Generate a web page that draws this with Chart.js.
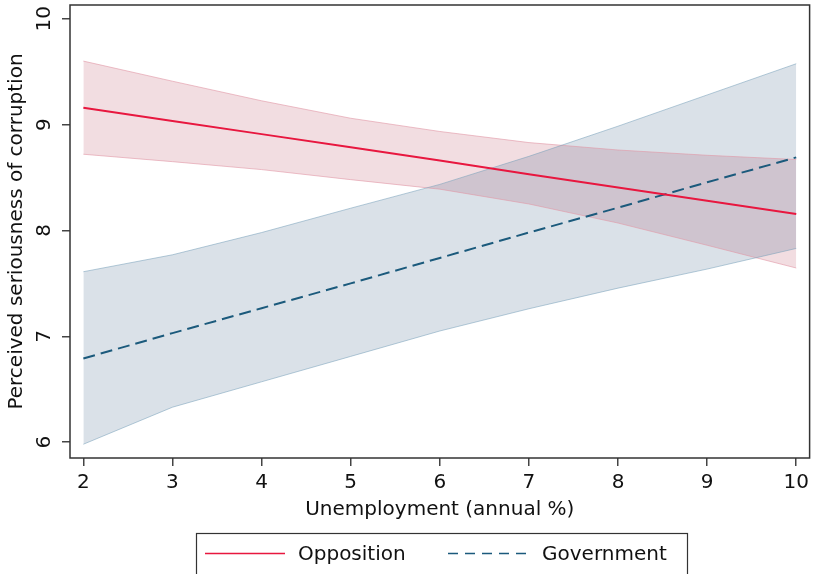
<!DOCTYPE html>
<html>
<head>
<meta charset="utf-8">
<script src="https://cdn.jsdelivr.net/npm/chart.js@4.4.1/dist/chart.umd.min.js"></script>
<style>
  html, body { margin: 0; padding: 0; background: #ffffff; }
  #wrap { width: 814px; height: 574px; position: relative; }
</style>
</head>
<body>
<div id="wrap"><canvas id="c" width="814" height="574"></canvas></div>
<script>
// ---- data ----
const unemployment = [2, 3, 4, 5, 6, 7, 8, 9, 10];
const oppositionFit   = [9.16, 9.035, 8.91, 8.785, 8.66, 8.53, 8.405, 8.28, 8.155];
const oppositionUpper = [9.60, 9.41, 9.225, 9.06, 8.935, 8.83, 8.76, 8.71, 8.67];
const oppositionLower = [8.72, 8.65, 8.575, 8.48, 8.39, 8.25, 8.07, 7.86, 7.645];
const governmentFit   = [6.79, 7.03, 7.265, 7.50, 7.74, 7.98, 8.215, 8.455, 8.69];
const governmentUpper = [7.61, 7.77, 7.98, 8.21, 8.435, 8.70, 8.985, 9.28, 9.575];
const governmentLower = [5.98, 6.33, 6.57, 6.81, 7.05, 7.26, 7.455, 7.635, 7.83];
const xTicks = [2, 3, 4, 5, 6, 7, 8, 9, 10];
const yTicks = [6, 7, 8, 9, 10];
const seriesLabels = ['Opposition', 'Government'];
const xTitle = 'Unemployment (annual %)';
const yTitle = 'Perceived seriousness of corruption';

const pts = arr => unemployment.map((x, i) => ({ x: x, y: arr[i] }));

const FONT = '"DejaVu Sans", sans-serif';
const RED = '#e8173f';
const NAVY = '#1b5a7c';

const decorPlugin = {
  id: 'decor',
  afterDraw(chart) {
    const ctx = chart.ctx;
    const a = chart.chartArea;
    ctx.save();
    // plot frame
    ctx.strokeStyle = '#333';
    ctx.lineWidth = 1.5;
    ctx.strokeRect(a.left, a.top, a.right - a.left, a.bottom - a.top);
    // rotated y tick labels
    const ys = chart.scales.y;
    ctx.fillStyle = '#111';
    ctx.font = '20px ' + FONT;
    ctx.textAlign = 'center';
    ctx.textBaseline = 'middle';
    yTicks.forEach(v => {
      const py = ys.getPixelForValue(v);
      ctx.save();
      ctx.translate(ys.right - 25, py);
      ctx.rotate(-Math.PI / 2);
      ctx.fillText(String(v), 0, 0);
      ctx.restore();
    });
    // legend
    const lx = 196, ly = 533, lw = 491, lh = 60;
    ctx.strokeStyle = '#333';
    ctx.lineWidth = 1.2;
    ctx.strokeRect(lx + 0.5, ly + 0.5, lw, lh);
    const ds = chart.data.datasets;
    const items = [
      { ds: ds[0], x0: 205, x1: 285, tx: 298 },
      { ds: ds[1], x0: 448, x1: 528, tx: 542 }
    ];
    const cy = 553.5;
    items.forEach(it => {
      ctx.save();
      ctx.strokeStyle = it.ds.borderColor;
      ctx.lineWidth = 1.6;
      ctx.setLineDash(it.ds.borderDash && it.ds.borderDash.length ? [10, 7] : []);
      ctx.beginPath();
      ctx.moveTo(it.x0, cy);
      ctx.lineTo(it.x1, cy);
      ctx.stroke();
      ctx.restore();
      ctx.fillStyle = '#111';
      ctx.font = '20px ' + FONT;
      ctx.textAlign = 'left';
      ctx.textBaseline = 'middle';
      ctx.fillText(it.ds.label, it.tx, cy + 1);
    });
    ctx.restore();
  }
};

new Chart(document.getElementById('c'), {
  type: 'line',
  data: {
    datasets: [
      { label: seriesLabels[0], data: pts(oppositionFit), borderColor: RED, borderWidth: 2,
        pointRadius: 0, fill: false, tension: 0 },
      { label: seriesLabels[1], data: pts(governmentFit), borderColor: NAVY, borderWidth: 2,
        borderDash: [12, 6], pointRadius: 0, fill: false, tension: 0 },
      { label: 'gov-upper', data: pts(governmentUpper), borderColor: 'rgba(120,160,185,0.55)',
        borderWidth: 1, pointRadius: 0, fill: '+1', backgroundColor: 'rgba(26,71,111,0.16)', tension: 0 },
      { label: 'gov-lower', data: pts(governmentLower), borderColor: 'rgba(120,160,185,0.55)',
        borderWidth: 1, pointRadius: 0, fill: false, tension: 0 },
      { label: 'opp-upper', data: pts(oppositionUpper), borderColor: 'rgba(225,150,165,0.6)',
        borderWidth: 1, pointRadius: 0, fill: '+1', backgroundColor: 'rgba(174,42,68,0.16)', tension: 0 },
      { label: 'opp-lower', data: pts(oppositionLower), borderColor: 'rgba(225,150,165,0.6)',
        borderWidth: 1, pointRadius: 0, fill: false, tension: 0 }
    ]
  },
  options: {
    responsive: false,
    animation: false,
    devicePixelRatio: 1,
    layout: { padding: { left: 0, right: 2, top: 5, bottom: 44 } },
    plugins: {
      legend: { display: false },
      tooltip: { enabled: false },
      filler: { drawTime: 'beforeDatasetsDraw' }
    },
    scales: {
      x: {
        type: 'linear',
        min: 1.85,
        max: 10.15,
        afterBuildTicks: s => { s.ticks = xTicks.map(v => ({ value: v })); },
        afterFit: s => { s.height = 72; },
        border: { display: false },
        grid: { drawOnChartArea: false, drawTicks: true, tickLength: 8, color: '#444', lineWidth: 1.5 },
        ticks: { color: '#111', font: { family: FONT, size: 20 }, padding: 5, maxRotation: 0,
                 callback: v => String(v) },
        title: { display: true, text: xTitle, color: '#111', font: { family: FONT, size: 20 },
                 padding: { top: 0, bottom: 8 } }
      },
      y: {
        type: 'linear',
        min: 5.85,
        max: 10.13,
        afterBuildTicks: s => { s.ticks = yTicks.map(v => ({ value: v })); },
        afterFit: s => { s.width = 70; },
        border: { display: false },
        grid: { drawOnChartArea: false, drawTicks: true, tickLength: 8, color: '#444', lineWidth: 1.5 },
        ticks: { display: false },
        title: { display: true, text: yTitle, color: '#111', font: { family: FONT, size: 20 },
                 padding: { top: 5, bottom: 0 } }
      }
    }
  },
  plugins: [decorPlugin]
});
</script>
</body>
</html>
